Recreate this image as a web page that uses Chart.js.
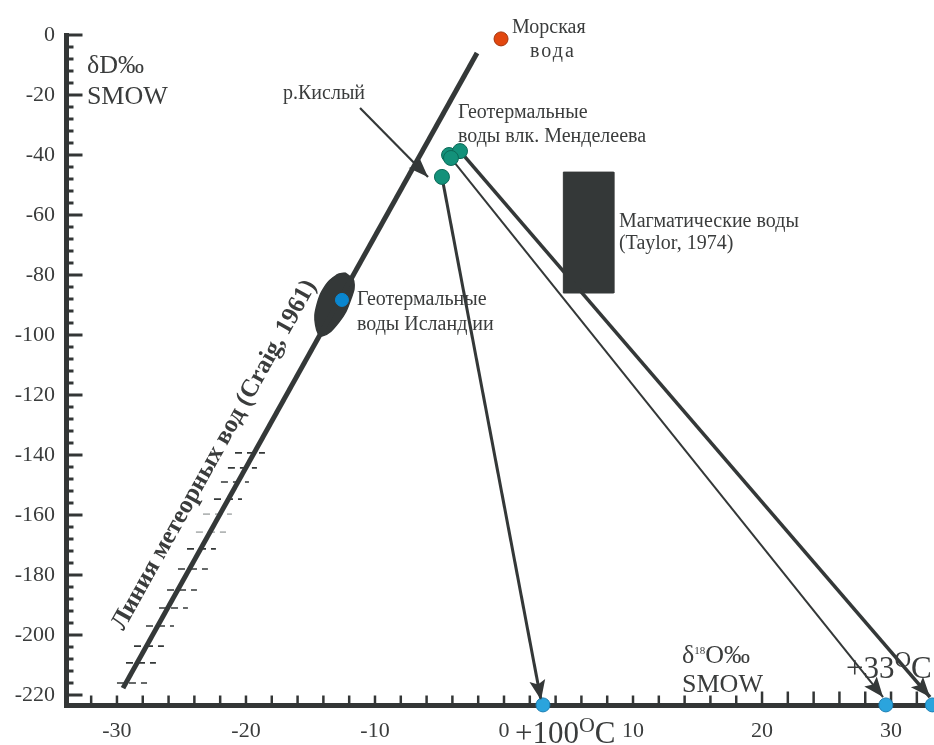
<!DOCTYPE html>
<html>
<head>
<meta charset="utf-8">
<script src="https://cdn.jsdelivr.net/npm/chart.js@4.4.0/dist/chart.umd.min.js"></script>
<style>
html,body{margin:0;padding:0;background:#fff;}
#wrap{width:934px;height:745px;position:relative;}
</style>
</head>
<body>
<div id="wrap"><canvas id="c"></canvas></div>
<script>
// ---------- data ----------
const xTickLabels = [-30, -20, -10, 0, 10, 20, 30];
const yTickLabels = [0, -20, -40, -60, -80, -100, -120, -140, -160, -180, -200, -220];
const xRange = [-33.95, 33.33];
const yRange = [-223.33, 0];

// meteoric water line (Craig, 1961)
const meteoricX = [-29.53, -2.09];
const meteoricY = [-217.7, -6.0];

// short dashed hatch marks along the lower meteoric line
const hatchY      = [-139.3, -144.3, -149, -154.7, -159.7, -165.7, -171.3, -178, -185, -191, -197, -203.7, -209.3, -216];
const hatchXStart = [-20.85, -21.40, -21.94, -22.48, -23.33, -23.88, -24.57, -25.27, -26.12, -26.74, -27.75, -28.68, -29.30, -30.0];
const hatchXEnd   = [-18.53, -19.15, -19.77, -20.31, -21.09, -21.55, -22.33, -22.95, -23.80, -24.50, -25.58, -26.36, -26.98, -27.67];

// Iceland geothermal field outline and point
const icelandBlobX = [-12.33, -11.65, -11.90, -12.80, -14.11, -14.60, -14.50, -13.80, -12.95, -12.33];
const icelandBlobY = [-79.3, -82.0, -88.3, -95.7, -100.3, -96.7, -90.0, -83.3, -80.0, -79.3];
const icelandPointX = [-12.56];
const icelandPointY = [-88.3];

// sea water
const seaX = [-0.23];
const seaY = [-1.3];

// Mendeleev volcano geothermal waters
const mendeleevX = [-4.26, -3.41, -4.11, -4.81];
const mendeleevY = [-40.0, -38.7, -41.0, -47.3];

// equilibrium end points on the δ18O axis (+100 °C, +33 °C)
const equilX = [3.02, 29.6, 33.2];
const equilY = [-223.3, -223.3, -223.3];

// arrow tips (ends of exchange lines)
const arrowTipX = [2.87, 29.38, 33.02];
const arrowTipY = [-221.7, -220.7, -220.7];
const arrowFrom = [3, 2, 1]; // index in mendeleev arrays

// magmatic waters (Taylor, 1974) box
const magmaticX = [4.60, 8.51];
const magmaticY = [-45.7, -86.0];

// р.Кислый arrow
const kislyX = [-11.16, -5.89];
const kislyY = [-24.3, -47.3];

// ---------- styles ----------
const C = {
  axis: '#333636', text: '#3a3c3c', dark: '#343838',
  green: '#13917a', greenEdge: '#0c6a58',
  sea: '#e2470f', seaEdge: '#a3330a',
  iceDot: '#0a86cf', eq: '#2ba4dd', eqEdge: '#1b7fb4',
  light: '#b3b6b6'
};
const FONT = '"Liberation Serif", "Times New Roman", serif';
const lightHatch = [4, 5];
const arrowWidths = [3, 2, 3.6];

const pts = (xs, ys) => xs.map((x, i) => ({x, y: ys[i]}));

const datasets = [];

// magmatic box
datasets.push({
  data: [
    {x: magmaticX[0], y: magmaticY[0]}, {x: magmaticX[1], y: magmaticY[0]},
    {x: magmaticX[1], y: magmaticY[1]}, {x: magmaticX[0], y: magmaticY[1]},
    {x: magmaticX[0], y: magmaticY[0]}
  ],
  fill: 'shape', backgroundColor: C.dark, borderColor: C.dark, borderWidth: 1,
  pointRadius: 0, tension: 0, order: 30, clip: false
});
// Iceland blob
datasets.push({
  data: pts(icelandBlobX, icelandBlobY),
  fill: 'shape', backgroundColor: C.dark, borderColor: C.dark, borderWidth: 1.5,
  pointRadius: 0, tension: 0.45, order: 29, clip: false
});
// meteoric line
datasets.push({
  data: pts(meteoricX, meteoricY),
  borderColor: C.dark, borderWidth: 5, pointRadius: 0, fill: false, order: 20, clip: false
});
// hatch marks
hatchY.forEach((y, i) => {
  datasets.push({
    data: [{x: hatchXStart[i], y}, {x: hatchXEnd[i], y}],
    borderColor: lightHatch.includes(i) ? C.light : C.dark,
    borderWidth: 1.7, borderDash: [7, 5], pointRadius: 0, fill: false, order: 21, clip: false
  });
});
// р.Кислый arrow
datasets.push({
  data: pts(kislyX, kislyY),
  borderColor: C.dark, borderWidth: 2.2, pointRadius: 0, fill: false, order: 15, clip: false,
  arrow: {len: 20, half: 7.5}
});
// exchange lines
arrowFrom.forEach((k, i) => {
  datasets.push({
    data: [{x: mendeleevX[k], y: mendeleevY[k]}, {x: arrowTipX[i], y: arrowTipY[i]}],
    borderColor: C.dark, borderWidth: arrowWidths[i], pointRadius: 0, fill: false, order: 15, clip: false,
    arrow: {len: 20, half: 8}
  });
});
// points
datasets.push({
  data: pts(seaX, seaY), showLine: false,
  pointRadius: 7, pointBackgroundColor: C.sea, pointBorderColor: C.seaEdge, pointBorderWidth: 1,
  order: 1, clip: false
});
datasets.push({
  data: pts(mendeleevX, mendeleevY), showLine: false,
  pointRadius: 7.5, pointBackgroundColor: C.green, pointBorderColor: C.greenEdge, pointBorderWidth: 1,
  order: 1, clip: false
});
datasets.push({
  data: pts(icelandPointX, icelandPointY), showLine: false,
  pointRadius: 6.5, pointBackgroundColor: C.iceDot, pointBorderColor: C.iceDot, pointBorderWidth: 1,
  order: 1, clip: false
});
datasets.push({
  data: pts(equilX, equilY), showLine: false,
  pointRadius: 7, pointBackgroundColor: C.eq, pointBorderColor: C.eqEdge, pointBorderWidth: 1,
  order: 1, clip: false
});

// ---------- text annotations (data coordinates) ----------
const notes = [
  {x: -32.33, y: -12.57, runs: [{t: 'δD‰', s: 26}]},
  {x: -32.33, y: -23.0, runs: [{t: 'SMOW', s: 26}]},
  {x: -17.13, y: -21.4, runs: [{t: 'р.Кислый', s: 20}]},
  {x: 0.62, y: 0.57, runs: [{t: 'Морская', s: 20}]},
  {x: 2.02, y: -7.23, runs: [{t: 'вода', s: 20, ls: 2}]},
  {x: -3.57, y: -27.77, runs: [{t: 'Геотермальные', s: 20}]},
  {x: -3.57, y: -35.57, runs: [{t: 'воды влк. Менделеева', s: 20}]},
  {x: 8.91, y: -63.9, runs: [{t: 'Магматические воды', s: 20}]},
  {x: 8.91, y: -71.4, runs: [{t: '(Taylor, 1974)', s: 20}]},
  {x: -11.40, y: -90.0, runs: [{t: 'Геотермальные', s: 20}]},
  {x: -11.40, y: -98.3, runs: [{t: 'воды Исланд ии', s: 20}]},
  {x: 13.8, y: -209.3, runs: [{t: 'δ', s: 26}, {t: '18', s: 11, dy: -9}, {t: 'O‰', s: 26}]},
  {x: 13.8, y: -219.0, runs: [{t: 'SMOW', s: 26}]},
  {x: 0.85, y: -236.0, runs: [{t: '+100', s: 31}, {t: 'O', s: 22, dy: -11}, {t: 'C', s: 31}]},
  {x: 26.51, y: -214.3, runs: [{t: '+33', s: 31}, {t: 'O', s: 23, dy: -11}, {t: 'C', s: 31}]}
];
const meteoricLabel = {x: -22.45, y: -140, t: 'Линия метеорных вод (Craig, 1961)', s: 25};

const marks = {
  id: 'marks',
  beforeDatasetsDraw(chart) {
    const {ctx, chartArea: a, scales: {x, y}} = chart;
    ctx.save();
    ctx.strokeStyle = C.axis;
    ctx.lineCap = 'butt';
    y.ticks.forEach(t => {
      const v = t.value;
      if (Math.abs(v % 4) > 1e-6) return;
      const p = y.getPixelForValue(v);
      const major = yTickLabels.includes(v);
      ctx.lineWidth = 3;
      ctx.beginPath(); ctx.moveTo(a.left, p); ctx.lineTo(a.left + 2.5 + (major ? 14 : 5), p); ctx.stroke();
    });
    x.ticks.forEach(t => {
      const v = t.value;
      if (Math.abs(v % 2) > 1e-6) return;
      const p = x.getPixelForValue(v);
      if (p < a.left + 3 || p > a.right) return;
      const len = v >= 20 ? 11 : 7;
      ctx.lineWidth = 2.5;
      ctx.beginPath(); ctx.moveTo(p, a.bottom); ctx.lineTo(p, a.bottom - 2.5 - len); ctx.stroke();
    });
    ctx.restore();
  },
  afterDatasetsDraw(chart) {
    const {ctx, scales: {x, y}} = chart;
    ctx.save();
    // arrowheads
    chart.data.datasets.forEach((ds, i) => {
      if (!ds.arrow) return;
      const meta = chart.getDatasetMeta(i);
      const n = meta.data.length;
      const p1 = meta.data[n - 2], p2 = meta.data[n - 1];
      const ang = Math.atan2(p2.y - p1.y, p2.x - p1.x);
      const L = ds.arrow.len, H = ds.arrow.half;
      ctx.fillStyle = C.dark;
      ctx.beginPath();
      ctx.moveTo(p2.x, p2.y);
      ctx.lineTo(p2.x - L * Math.cos(ang) + H * Math.sin(ang), p2.y - L * Math.sin(ang) - H * Math.cos(ang));
      ctx.lineTo(p2.x - L * 0.8 * Math.cos(ang), p2.y - L * 0.8 * Math.sin(ang));
      ctx.lineTo(p2.x - L * Math.cos(ang) - H * Math.sin(ang), p2.y - L * Math.sin(ang) + H * Math.cos(ang));
      ctx.closePath();
      ctx.fill();
    });
    // texts
    ctx.fillStyle = C.text;
    ctx.textBaseline = 'alphabetic';
    ctx.textAlign = 'left';
    notes.forEach(n => {
      let px = x.getPixelForValue(n.x);
      const py = y.getPixelForValue(n.y);
      n.runs.forEach(r => {
        ctx.font = `${r.s}px ${FONT}`;
        ctx.letterSpacing = (r.ls || 0) + 'px';
        ctx.fillText(r.t, px, py + (r.dy || 0));
        px += ctx.measureText(r.t).width;
      });
      ctx.letterSpacing = '0px';
    });
    // rotated meteoric line label, parallel to the line
    const a1x = x.getPixelForValue(meteoricX[0]), a1y = y.getPixelForValue(meteoricY[0]);
    const a2x = x.getPixelForValue(meteoricX[1]), a2y = y.getPixelForValue(meteoricY[1]);
    const ang = Math.atan2(a2y - a1y, a2x - a1x);
    ctx.translate(x.getPixelForValue(meteoricLabel.x), y.getPixelForValue(meteoricLabel.y));
    ctx.rotate(ang);
    ctx.font = `bold ${meteoricLabel.s}px ${FONT}`;
    ctx.textAlign = 'center';
    ctx.textBaseline = 'middle';
    ctx.fillText(meteoricLabel.t, 0, 0);
    ctx.restore();
  }
};

const tickFont = {family: FONT, size: 22};

new Chart(document.getElementById('c'), {
  type: 'line',
  data: {datasets},
  options: {
    responsive: true, maintainAspectRatio: false, animation: false, events: [],
    layout: {autoPadding: false, padding: {top: 35, left: 0, right: 0, bottom: 0}},
    plugins: {legend: {display: false}, tooltip: {enabled: false}, title: {display: false}},
    scales: {
      x: {
        type: 'linear', min: xRange[0], max: xRange[1],
        grid: {display: false, drawTicks: false},
        border: {display: true, width: 5, color: C.axis},
        ticks: {
          stepSize: 2, maxTicksLimit: 200, autoSkip: false, maxRotation: 0, minRotation: 0,
          includeBounds: false,
          padding: 13, color: C.text, font: tickFont,
          callback: v => xTickLabels.includes(v) ? String(v) : ''
        },
        afterFit: s => { s.height = 40; s.paddingLeft = 0; s.paddingRight = 0; }
      },
      y: {
        type: 'linear', min: yRange[0], max: yRange[1],
        grid: {display: false, drawTicks: false},
        border: {display: true, width: 5, color: C.axis},
        ticks: {
          stepSize: 4, maxTicksLimit: 200, autoSkip: false, includeBounds: false,
          padding: 11, color: C.text, font: tickFont,
          callback: v => yTickLabels.includes(v) ? String(v) : ''
        },
        afterFit: s => { s.width = 66; s.paddingTop = 0; s.paddingBottom = 0; }
      }
    }
  },
  plugins: [marks]
});
</script>
</body>
</html>
